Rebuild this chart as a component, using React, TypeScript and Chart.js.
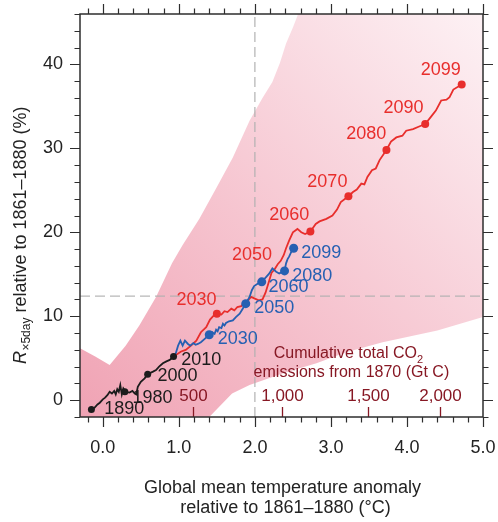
import React, { useEffect, useRef } from "react";
import { Chart, registerables } from "chart.js";

Chart.register(...registerables);

const FONT = '"Liberation Sans", Arial, Helvetica, sans-serif';

// Axis ranges and ticks
const X_MIN = -0.3;
const X_MAX = 5.0;
const Y_MIN = -2;
const Y_MAX = 46;
const xTickValues = [0, 1, 2, 3, 4, 5];
const yTickValues = [0, 10, 20, 30, 40];
const xMinorStep = 0.2;
const yMinorStep = 2;

// Reference (dashed) lines
const refTemp = 2.0;
const refChange = 12.4;

// Historical (black)
const histX = [-0.15, -0.11, -0.07, -0.04, 0.0, 0.03, 0.06, 0.09, 0.12, 0.15, 0.17, 0.19, 0.21, 0.23, 0.25, 0.27, 0.30, 0.35, 0.39, 0.42, 0.44, 0.46, 0.50, 0.55, 0.59, 0.66, 0.70, 0.74, 0.79, 0.83, 0.88, 0.93];
const histY = [-1.1, -0.9, -0.5, -0.3, 0.1, 0.3, 0.6, 1.0, 0.8, 1.1, 0.7, 1.3, 1.0, 1.8, 0.7, 1.4, 1.0, 0.9, 1.1, 0.8, 0.7, 1.6, 2.2, 2.6, 3.1, 3.4, 3.6, 4.0, 4.4, 4.6, 4.8, 5.2];
const histMarkX = [-0.15, 0.29, 0.59, 0.93];
const histMarkY = [-1.1, 1.0, 3.1, 5.2];
const histLabels = ["1890", "1980", "2000", "2010"];
const histLabelX = [0.02, 0.39, 0.72, 1.03];
const histLabelY = [-1.1, 0.25, 2.9, 4.8];

// RCP8.5 (red)
const rcp85X = [0.93, 0.96, 1.03, 1.09, 1.16, 1.23, 1.29, 1.36, 1.41, 1.46, 1.50, 1.56, 1.60, 1.64, 1.69, 1.73, 1.77, 1.82, 1.87, 1.91, 1.95, 2.00, 2.05, 2.10, 2.14, 2.18, 2.22, 2.26, 2.30, 2.34, 2.38, 2.41, 2.45, 2.50, 2.56, 2.61, 2.66, 2.73, 2.80, 2.85, 2.94, 3.02, 3.08, 3.13, 3.23, 3.29, 3.34, 3.40, 3.44, 3.48, 3.54, 3.59, 3.64, 3.73, 3.79, 3.86, 3.94, 3.99, 4.08, 4.16, 4.24, 4.32, 4.38, 4.45, 4.52, 4.56, 4.61, 4.72];
const rcp85Y = [5.2, 5.4, 5.8, 6.0, 6.5, 7.1, 8.1, 8.7, 9.6, 10.1, 10.3, 10.2, 10.6, 10.5, 10.9, 10.7, 11.1, 11.2, 11.7, 11.9, 12.3, 12.1, 11.9, 12.0, 12.8, 14.0, 15.2, 15.6, 16.2, 16.6, 17.3, 18.1, 19.0, 20.0, 20.4, 20.0, 19.8, 20.1, 21.0, 21.3, 21.6, 22.0, 22.7, 23.6, 24.3, 24.8, 25.1, 25.8, 25.7, 26.6, 27.4, 27.6, 28.6, 29.8, 30.8, 31.3, 31.5, 32.1, 32.3, 32.6, 32.9, 33.8, 34.5, 35.7, 35.8, 36.1, 37.0, 37.6];
const rcp85MarkX = [1.50, 2.73, 3.23, 3.73, 4.24, 4.72];
const rcp85MarkY = [10.3, 20.1, 24.3, 29.8, 32.9, 37.6];
const rcp85Labels = ["2030", "2050", "2060", "2070", "2080", "2090", "2099"];
const rcp85LabelX = [0.97, 1.70, 2.19, 2.69, 3.20, 3.69, 4.18];
const rcp85LabelY = [11.9, 17.3, 22.0, 26.0, 31.7, 34.8, 39.3];

// RCP4.5 (blue)
const rcp45X = [0.93, 0.96, 0.99, 1.02, 1.05, 1.08, 1.12, 1.15, 1.19, 1.22, 1.25, 1.29, 1.34, 1.40, 1.44, 1.47, 1.49, 1.51, 1.53, 1.56, 1.58, 1.60, 1.62, 1.66, 1.71, 1.75, 1.80, 1.84, 1.88, 1.93, 1.96, 1.99, 2.04, 2.09, 2.15, 2.19, 2.23, 2.28, 2.32, 2.39, 2.41, 2.43, 2.45, 2.48, 2.51];
const rcp45Y = [5.2, 5.6, 6.5, 7.1, 6.5, 7.1, 6.7, 6.5, 6.8, 6.6, 6.7, 6.9, 7.3, 7.8, 8.1, 7.9, 8.4, 8.2, 8.7, 8.6, 9.1, 8.9, 9.2, 9.4, 9.5, 9.9, 10.3, 10.9, 11.5, 12.3, 13.1, 13.6, 13.9, 14.1, 14.7, 15.1, 15.7, 15.3, 15.1, 15.4, 16.3, 16.8, 17.1, 17.7, 18.1];
const rcp45MarkX = [1.40, 1.88, 2.09, 2.39, 2.51];
const rcp45MarkY = [7.8, 11.5, 14.1, 15.4, 18.1];
const rcp45Labels = ["2030", "2050", "2060", "2080", "2099"];
const rcp45LabelX = [1.51, 1.99, 2.18, 2.49, 2.61];
const rcp45LabelY = [7.3, 11.0, 13.5, 14.8, 17.5];

// Shaded uncertainty region (closed outline)
const regionX = [-0.5, -0.3, -0.1, 0.09, 0.3, 0.48, 0.70, 0.91, 1.05, 1.27, 1.50, 1.71, 1.93, 2.10, 2.23, 2.33, 2.41, 2.50, 2.56, 2.62, 5.5, 5.5, 5.0, 4.4, 3.68, 3.2, 2.81, 2.4, 1.93, 1.70, 1.55, 1.40, 1.30, -0.5];
const regionY = [6.5, 6.2, 5.2, 4.2, 6.5, 8.9, 12.3, 16.3, 18.5, 21.6, 25.4, 28.9, 33.3, 36.0, 37.9, 40.2, 42.5, 44.4, 45.8, 48.0, 48.0, 10.0, 9.9, 8.3, 6.9, 5.7, 4.4, 3.3, 1.8, 0.8, -0.6, -2.0, -3.0, -3.0];

// Secondary axis: cumulative CO2 emissions
const co2Ticks = ["500", "1,000", "1,500", "2,000"];
const co2TickTemps = [1.19, 2.35, 3.49, 4.44];

const BLACK = "#1c1c1c";
const RED = "rgb(232,46,44)";
const BLUE = "rgb(38,96,178)";
const DARKRED = "rgb(135,24,36)";
const INK = "#232323";

const pts = (xs: number[], ys: number[]) => xs.map((x, i) => ({ x, y: ys[i] }));

const zeroPad = (s: any) => {
  s.paddingLeft = 0;
  s.paddingRight = 0;
  s.paddingTop = 0;
  s.paddingBottom = 0;
};

const overlay = {
  id: "overlay",
  afterDatasetsDraw(chart: any) {
    const { ctx, chartArea: a, scales } = chart;
    const x = scales.x;
    const y = scales.y;
    ctx.save();

    // year labels
    ctx.textBaseline = "middle";
    ctx.textAlign = "left";
    ctx.font = `18px ${FONT}`;
    const drawLabels = (texts: string[], xs: number[], ys: number[], color: string) => {
      ctx.fillStyle = color;
      texts.forEach((t, i) => {
        ctx.fillText(t, x.getPixelForValue(xs[i]), y.getPixelForValue(ys[i]));
      });
    };
    drawLabels(histLabels, histLabelX, histLabelY, BLACK);
    drawLabels(rcp85Labels, rcp85LabelX, rcp85LabelY, RED);
    drawLabels(rcp45Labels, rcp45LabelX, rcp45LabelY, BLUE);

    // CO2 secondary axis
    ctx.strokeStyle = DARKRED;
    ctx.fillStyle = DARKRED;
    ctx.lineWidth = 1.3;
    ctx.textAlign = "center";
    ctx.font = `17px ${FONT}`;
    co2Ticks.forEach((t, i) => {
      const px = Math.round(x.getPixelForValue(co2TickTemps[i])) + 0.5;
      ctx.beginPath();
      ctx.moveTo(px, a.bottom);
      ctx.lineTo(px, a.bottom - 10);
      ctx.stroke();
      ctx.fillText(t, px, a.bottom - 21);
    });
    // caption
    const cx = x.getPixelForValue(3.23);
    ctx.font = `16px ${FONT}`;
    const l1 = "Cumulative total CO";
    const w1 = ctx.measureText(l1).width;
    ctx.font = `11px ${FONT}`;
    const w2 = ctx.measureText("2").width;
    const start = cx - (w1 + w2) / 2;
    ctx.textAlign = "left";
    ctx.font = `16px ${FONT}`;
    ctx.fillText(l1, start, a.bottom - 63);
    ctx.font = `11px ${FONT}`;
    ctx.fillText("2", start + w1, a.bottom - 57);
    ctx.font = `16px ${FONT}`;
    ctx.textAlign = "center";
    ctx.fillText("emissions from 1870 (Gt C)", cx + 3, a.bottom - 44);

    ctx.restore();
  },
  afterDraw(chart: any) {
    const { ctx, chartArea: a, scales } = chart;
    const x = scales.x;
    const y = scales.y;
    ctx.save();
    ctx.strokeStyle = "#2e2e2e";
    ctx.lineWidth = 1.5;
    ctx.strokeRect(a.left, a.top, a.right - a.left, a.bottom - a.top);

    ctx.lineWidth = 1.2;
    const iMin = Math.ceil(X_MIN / xMinorStep - 1e-9);
    const iMax = Math.floor(X_MAX / xMinorStep + 1e-9);
    for (let i = iMin; i <= iMax; i++) {
      const v = i * xMinorStep;
      const major = Math.abs(v - Math.round(v)) < 1e-6;
      const len = major ? 10 : 5.5;
      const px = Math.round(x.getPixelForValue(v)) + 0.5;
      ctx.beginPath();
      ctx.moveTo(px, a.bottom);
      ctx.lineTo(px, a.bottom + len);
      ctx.moveTo(px, a.top);
      ctx.lineTo(px, a.top - len);
      ctx.stroke();
    }
    const jMin = Math.ceil(Y_MIN / yMinorStep - 1e-9);
    const jMax = Math.floor(Y_MAX / yMinorStep + 1e-9);
    for (let j = jMin; j <= jMax; j++) {
      const v = j * yMinorStep;
      const major = v % 10 === 0;
      const len = major ? 10 : 5.5;
      const py = Math.round(y.getPixelForValue(v)) + 0.5;
      ctx.beginPath();
      ctx.moveTo(a.left, py);
      ctx.lineTo(a.left - len, py);
      ctx.moveTo(a.right, py);
      ctx.lineTo(a.right + len, py);
      ctx.stroke();
    }

    // x title
    ctx.fillStyle = INK;
    ctx.textAlign = "center";
    ctx.textBaseline = "middle";
    ctx.font = `18px ${FONT}`;
    const mx = (a.left + a.right) / 2 + 1;
    ctx.fillText("Global mean temperature anomaly", mx, a.bottom + 71);
    ctx.fillText("relative to 1861\u20131880 (\u00b0C)", mx + 3, a.bottom + 91);

    // y title (rotated)
    ctx.save();
    ctx.translate(19, (a.top + a.bottom) / 2 + 20);
    ctx.rotate(-Math.PI / 2);
    ctx.textAlign = "left";
    ctx.textBaseline = "alphabetic";
    const fR = `italic 18px ${FONT}`;
    const fSub = `12px ${FONT}`;
    const fMain = `18px ${FONT}`;
    const sub = "\u00d75day";
    const main = " relative to 1861\u20131880 (%)";
    ctx.font = fR;
    const wR = ctx.measureText("R").width;
    ctx.font = fSub;
    const wS = ctx.measureText(sub).width;
    ctx.font = fMain;
    const wM = ctx.measureText(main).width;
    let sx = -(wR + wS + wM) / 2;
    ctx.font = fR;
    ctx.fillText("R", sx, 6.5);
    sx += wR + 0.5;
    ctx.font = fSub;
    ctx.fillText(sub, sx, 11);
    sx += wS;
    ctx.font = fMain;
    ctx.fillText(main, sx, 6.5);
    ctx.restore();

    ctx.restore();
  },
};

export default function App() {
  const ref = useRef<HTMLCanvasElement | null>(null);

  useEffect(() => {
    const canvas = ref.current;
    if (!canvas) return;
    Chart.defaults.font.family = FONT;

    const regionFill = (c: any) => {
      const chart = c.chart;
      const a = chart.chartArea;
      if (!a) return "rgba(244,190,200,1)";
      const g = chart.ctx.createLinearGradient(a.left, a.bottom, a.right, a.top);
      g.addColorStop(0, "rgb(240,163,180)");
      g.addColorStop(0.45, "rgb(246,197,208)");
      g.addColorStop(1, "rgb(253,241,244)");
      return g;
    };

    const lineDs = (data: any[], color: string, order: number, width = 1.8) => ({
      data,
      showLine: true,
      borderColor: color,
      borderWidth: width,
      pointRadius: 0,
      fill: false,
      order,
    });
    const markDs = (data: any[], color: string, order: number, r: number) => ({
      data,
      showLine: false,
      backgroundColor: color,
      borderColor: color,
      pointRadius: r,
      pointBorderWidth: 0,
      order,
    });

    const chart = new Chart(canvas, {
      type: "scatter",
      data: {
        datasets: [
          {
            data: pts(regionX, regionY),
            showLine: true,
            fill: "shape",
            backgroundColor: regionFill,
            borderWidth: 0,
            borderColor: "rgba(0,0,0,0)",
            pointRadius: 0,
            order: 20,
          } as any,
          {
            ...lineDs(pts([refTemp, refTemp], [Y_MIN, Y_MAX]), "rgba(175,175,175,0.9)", 15, 1.3),
            borderDash: [10, 5],
          },
          {
            ...lineDs(pts([X_MIN, X_MAX], [refChange, refChange]), "rgba(175,175,175,0.9)", 15, 1.3),
            borderDash: [10, 5],
          },
          lineDs(pts(histX, histY), BLACK, 8),
          lineDs(pts(rcp85X, rcp85Y), RED, 7),
          lineDs(pts(rcp45X, rcp45Y), BLUE, 6),
          markDs(pts(histMarkX, histMarkY), BLACK, 3, 3.5),
          markDs(pts(rcp85MarkX, rcp85MarkY), RED, 2, 4),
          markDs(pts(rcp45MarkX, rcp45MarkY), BLUE, 1, 4.5),
        ] as any,
      },
      options: {
        responsive: false,
        animation: false,
        devicePixelRatio: 1,
        layout: { padding: { top: 14, right: 15, left: 0, bottom: 0 } },
        plugins: {
          legend: { display: false },
          tooltip: { enabled: false },
        },
        scales: {
          x: {
            type: "linear",
            min: X_MIN,
            max: X_MAX,
            afterBuildTicks: (s: any) => {
              s.ticks = xTickValues.map((v) => ({ value: v }));
            },
            afterFit: (s: any) => {
              s.height = 105;
              zeroPad(s);
            },
            grid: { display: false, drawTicks: false },
            border: { display: false },
            ticks: {
              padding: 20,
              autoSkip: false,
              maxRotation: 0,
              color: INK,
              font: { size: 18, family: FONT },
              callback: (v: any) => Number(v).toFixed(1),
            },
          },
          y: {
            type: "linear",
            min: Y_MIN,
            max: Y_MAX,
            afterBuildTicks: (s: any) => {
              s.ticks = yTickValues.map((v) => ({ value: v }));
            },
            afterFit: (s: any) => {
              s.width = 80;
              zeroPad(s);
            },
            grid: { display: false, drawTicks: false },
            border: { display: false },
            ticks: {
              padding: 17,
              autoSkip: false,
              color: INK,
              font: { size: 18, family: FONT },
              callback: (v: any) => String(v),
            },
          },
        },
      } as any,
      plugins: [overlay as any],
    });

    return () => chart.destroy();
  }, []);

  return (
    <div style={{ position: "absolute", left: 0, top: 0, width: 498, height: 522 }}>
      <canvas ref={ref} width={498} height={522} style={{ display: "block" }} />
    </div>
  );
}
